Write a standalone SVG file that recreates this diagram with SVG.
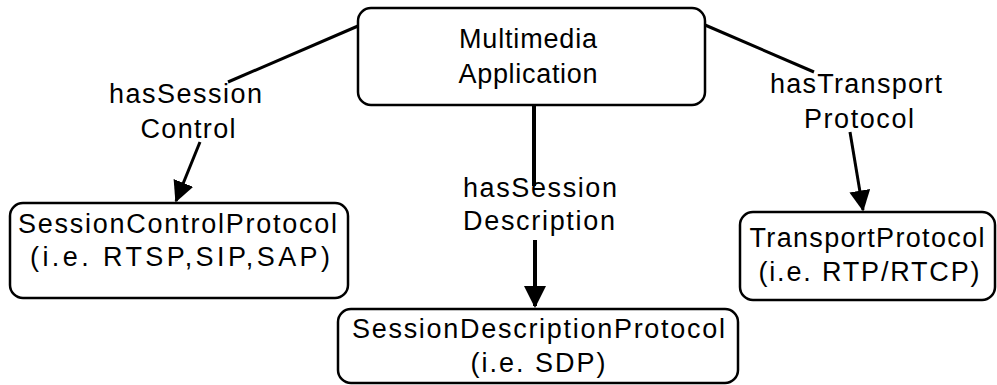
<svg xmlns="http://www.w3.org/2000/svg" width="997" height="385" viewBox="0 0 997 385">
<defs>
<style>
.box{fill:#fff;stroke:#000;stroke-width:2.5}
.t{font-family:"Liberation Sans",Arial,sans-serif;font-size:27px;fill:#000;text-anchor:middle}
.c{stroke:#000;stroke-width:3;fill:none}
.thick{stroke-width:4}
</style>
<marker id="ah" markerWidth="7" markerHeight="7" refX="6.5" refY="3.5" orient="auto" markerUnits="strokeWidth" viewBox="0 0 7 7">
<path d="M0,0 L7,3.5 L0,7 Z" fill="#000"/>
</marker>
<marker id="ah2" markerWidth="5.5" markerHeight="5.5" refX="5" refY="2.75" orient="auto" markerUnits="strokeWidth" viewBox="0 0 5.5 5.5">
<path d="M0,0 L5.5,2.75 L0,5.5 Z" fill="#000"/>
</marker>
</defs>
<rect width="997" height="385" fill="#fff"/>
<g id="connectors">
<line class="c" x1="358" y1="26" x2="228" y2="82"/>
<line class="c" x1="200" y1="142" x2="176" y2="201" marker-end="url(#ah)"/>
<line class="c thick" x1="534" y1="105" x2="534" y2="186"/>
<line class="c thick" x1="535" y1="240" x2="535" y2="306" marker-end="url(#ah2)"/>
<line class="c" x1="705" y1="25" x2="814" y2="72"/>
<line class="c" x1="850" y1="132" x2="863" y2="210" marker-end="url(#ah)"/>
<text class="t" x="185.5" y="103" textLength="153" lengthAdjust="spacing">hasSession</text>
<text class="t" x="188" y="138" textLength="95" lengthAdjust="spacing">Control</text>
<text class="t" x="540" y="197" textLength="154" lengthAdjust="spacing">hasSession</text>
<text class="t" x="539" y="230" textLength="152" lengthAdjust="spacing">Description</text>
<text class="t" x="856" y="93" textLength="172" lengthAdjust="spacing">hasTransport</text>
<text class="t" x="859" y="128" textLength="110" lengthAdjust="spacing">Protocol</text>
</g>
<g id="multimedia-application">
<rect class="box" x="358" y="8" width="347" height="97" rx="13"/>
<text class="t" x="528" y="48" textLength="138" lengthAdjust="spacing">Multimedia</text>
<text class="t" x="528" y="83" textLength="139" lengthAdjust="spacing">Application</text>
</g>
<g id="session-control-protocol">
<rect class="box" x="10" y="203" width="338" height="95" rx="13"/>
<text class="t" x="177.5" y="233" textLength="319" lengthAdjust="spacing">SessionControlProtocol</text>
<text class="t" x="180" y="266" textLength="300" lengthAdjust="spacing">(i.e. RTSP,SIP,SAP)</text>
</g>
<g id="session-description-protocol">
<rect class="box" x="338" y="309" width="400" height="74" rx="13"/>
<text class="t" x="538.5" y="338" textLength="373" lengthAdjust="spacing">SessionDescriptionProtocol</text>
<text class="t" x="538" y="372" textLength="135" lengthAdjust="spacing">(i.e. SDP)</text>
</g>
<g id="transport-protocol">
<rect class="box" x="740" y="212" width="255" height="88" rx="13"/>
<text class="t" x="867" y="247" textLength="235" lengthAdjust="spacing">TransportProtocol</text>
<text class="t" x="869" y="281" textLength="221" lengthAdjust="spacing">(i.e. RTP/RTCP)</text>
</g>
</svg>
